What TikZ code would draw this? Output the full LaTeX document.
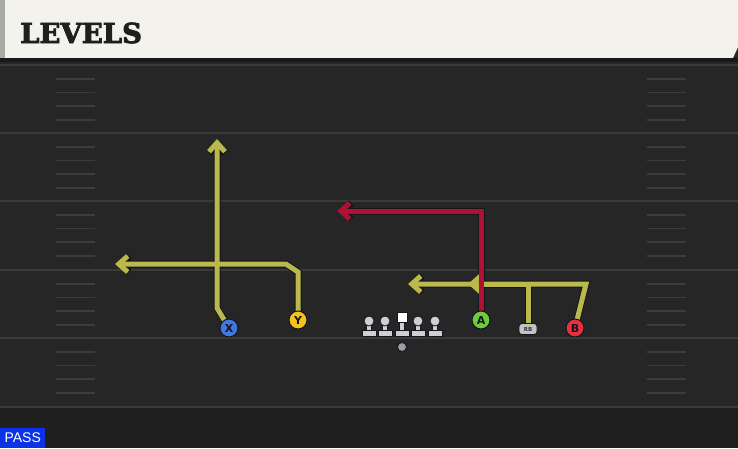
\documentclass[tikz,border=0pt]{standalone}
\usepackage{fontspec}
\setmainfont{DejaVu Sans}
\newfontfamily\titlefont[BoldFeatures={FakeBold=3}]{DejaVu Serif}
\newfontfamily\passfont{Liberation Sans}
\usetikzlibrary{arrows.meta,shapes.misc}
\definecolor{fieldbg}{HTML}{262626}
\definecolor{fieldlow}{HTML}{1F1F1F}
\definecolor{yardline}{HTML}{3A3A3A}
\definecolor{hashc}{HTML}{3C3C3C}
\definecolor{headerc}{HTML}{F4F2EC}
\definecolor{stripc}{HTML}{A9ABA3}
\definecolor{routey}{HTML}{B9B94C}
\definecolor{router}{HTML}{AD1233}
\definecolor{outl}{HTML}{15151F}
\definecolor{xblue}{HTML}{3F78E0}
\definecolor{yyel}{HTML}{F4C41C}
\definecolor{agreen}{HTML}{6CCC3C}
\definecolor{bred}{HTML}{E8303C}
\definecolor{rbgrey}{HTML}{C4C4C4}
\definecolor{linec}{HTML}{CFCFCF}
\definecolor{passblue}{HTML}{0B32E6}
\pgfdeclarelayer{bg}
\pgfdeclarelayer{routes}
\pgfsetlayers{bg,routes,main}
\tikzset{
  yardln/.style={draw=yardline,line width=2pt},
  hashln/.style={draw=hashc,line width=1.6pt},
  routeout/.style={draw=outl,line width=7pt,line join=miter,-{Straight Barb[length=9pt,width=16pt]}},
  routein/.style={draw=#1,line width=5pt,line join=miter,-{Straight Barb[length=9pt,width=16pt]}},
  player/.style={circle,draw=outl,line width=1pt,fill=#1,minimum size=18pt,inner sep=0pt,
    font=\bfseries\fontsize{11}{11}\selectfont,text=outl},
  lmhead/.style={circle,fill=linec,draw=outl,line width=0.8pt,minimum size=10pt,inner sep=0pt},
  lmbase/.style={fill=linec,draw=outl,line width=0.8pt},
}
\begin{document}
\begin{tikzpicture}[x=1pt,y=-1pt]
\useasboundingbox (0,0) rectangle (738,448);
\begin{pgfonlayer}{bg}
% field
\fill[fieldbg] (0,0) rectangle (738,448);
\fill[fieldlow] (0,408) rectangle (738,448);
% header
\fill[headerc] (0,0) -- (738,0) -- (738,47) -- (733,58) -- (0,58) -- cycle;
\fill[stripc] (0,0) rectangle (5,58);
\fill[black!90] (0,58) rectangle (738,62);
% yard lines
\foreach \yy in {65,133,201,270,338,407} {
  \draw[yardln] (0,\yy) -- (738,\yy);
}
% hash marks
\foreach \base in {65,133,201,270,338} {
  \foreach \off in {14,27.5,41,55} {
    \draw[hashln] (56,\base+\off) -- (95,\base+\off);
    \draw[hashln] (647,\base+\off) -- (686,\base+\off);
  }
}
\end{pgfonlayer}
% title
\node[anchor=base west,inner sep=0pt,text=black!88] (title) at (20,43)
  {\titlefont\bfseries\fontsize{27.5}{27.5}\selectfont LEVELS};
% players
\node[player=xblue] (X) at (229,328) {X};
\node[player=yyel] (Y) at (298,320) {Y};
\node[player=agreen] (A) at (481,320) {A};
\node[player=bred] (B) at (575,328) {B};
\node[rounded corners=3pt,fill=rbgrey,draw=outl,line width=0.8pt,minimum width=18pt,minimum height=11pt,
  inner sep=0pt,font=\bfseries\fontsize{5.5}{5.5}\selectfont,text=black!80] (RB) at (528,329) {RB};
% linemen
\foreach \lx/\nm in {369/lt,385/lg,418/rg,435/rt} {
  \fill[linec,draw=outl,line width=0.8pt] (\lx-2.8,322) rectangle (\lx+2.8,331);
  \node[lmhead] (\nm) at (\lx,321) {};
  \fill[lmbase] (\lx-7,330.5) rectangle (\lx+7,336.5);
}
\fill[linec,draw=outl,line width=0.8pt] (399.2,320) rectangle (404.8,331);
\node[fill=white,draw=outl,line width=0.8pt,minimum size=10pt,inner sep=0pt] (C) at (402,317) {};
\fill[lmbase] (395,330) rectangle (409,336);
\node[circle,fill=gray!75,draw=outl,line width=0.8pt,minimum size=9pt,inner sep=0pt] (ball) at (402,347) {};
% route coordinates
\coordinate (xturn) at (217,308);
\coordinate (xend) at (217,139);
\coordinate (yturn1) at (298,272);
\coordinate (yturn2) at (286,264);
\coordinate (yend) at (115,264);
\coordinate (aturn) at (481,211);
\coordinate (aend) at (337,211);
\coordinate (rbturn) at (528,284);
\coordinate (rbend) at (468,284);
\coordinate (bturn) at (586,284);
\coordinate (bend) at (408,284);
\begin{pgfonlayer}{routes}
% outlines
\draw[routeout] (X.center) -- (xturn) -- (xend);
\draw[routeout] (Y.center) -- (yturn1) -- (yturn2) -- (yend);
\draw[routeout] (B.center) -- (bturn) -- (bend);
\draw[routeout] (RB.center) -- (rbturn) -- (rbend);
\draw[routeout] (A.center) -- (aturn) -- (aend);
% fills
\draw[routein=routey] (X.center) -- (xturn) -- (xend);
\draw[routein=routey] (Y.center) -- (yturn1) -- (yturn2) -- (yend);
\draw[routein=routey] (B.center) -- (bturn) -- (bend);
\draw[routein=routey] (RB.center) -- (rbturn) -- (rbend);
\draw[routein=router] (A.center) -- (aturn) -- (aend);
\end{pgfonlayer}
% pass label
\node[fill=passblue,anchor=south west,minimum width=45pt,minimum height=20pt,inner sep=0pt,
  text=white,font=\passfont\fontsize{14}{14}\selectfont] (pass) at (0,448) {PASS};
\end{tikzpicture}
\end{document}
